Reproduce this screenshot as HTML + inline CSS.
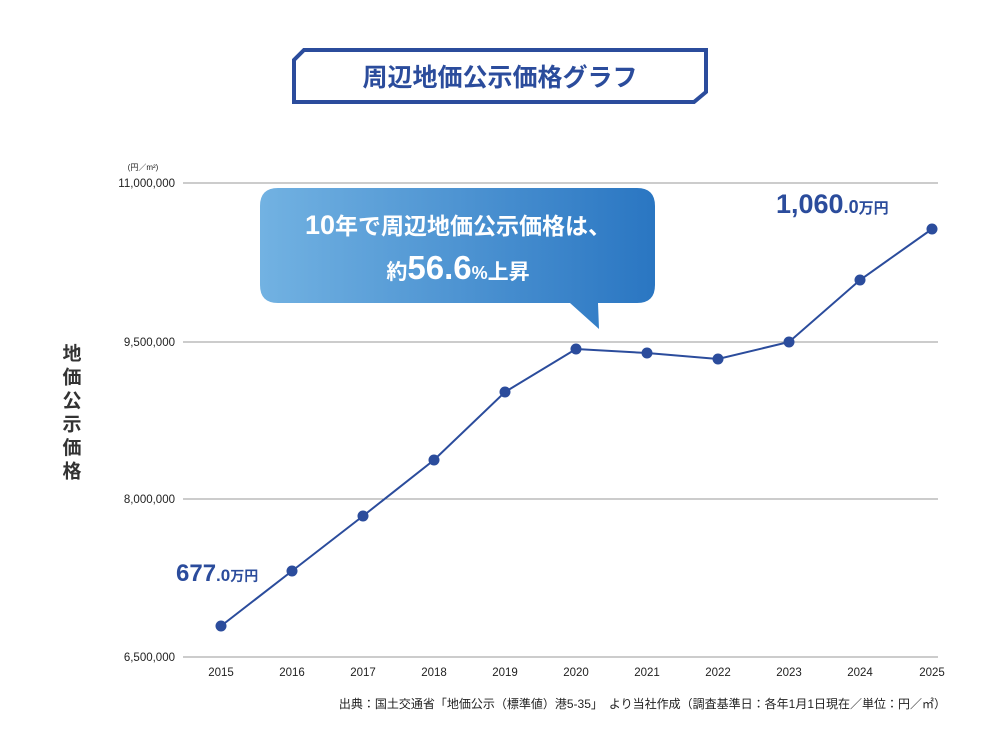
<!DOCTYPE html>
<html><head><meta charset="utf-8"><style>
html,body{margin:0;padding:0;background:#fff;width:1000px;height:750px;overflow:hidden}
svg{display:block}
text{font-family:"Liberation Sans","Noto Sans CJK JP",sans-serif}
</style></head><body>
<svg width="1000" height="750" viewBox="0 0 1000 750">
<defs>
<linearGradient id="g" x1="0" x2="1" y1="0" y2="0">
<stop offset="0" stop-color="#72b2e2"/><stop offset="1" stop-color="#2a76c2"/>
</linearGradient>
</defs>
<polygon points="304,50 706,50 706,92 694,102 294,102 294,60" fill="#fff" stroke="#2b4c9c" stroke-width="4"/>
<text x="500" y="86" text-anchor="middle" font-size="25" font-weight="bold" fill="#2b4c9c">周辺地価公示価格グラフ</text>
<g stroke="#999" stroke-width="1">
<line x1="183" y1="183" x2="938" y2="183"/>
<line x1="183" y1="342" x2="938" y2="342"/>
<line x1="183" y1="499" x2="938" y2="499"/>
<line x1="183" y1="657" x2="938" y2="657"/>
</g>
<g font-size="11.5" fill="#222" text-anchor="end">
<text x="175" y="187">11,000,000</text>
<text x="175" y="346">9,500,000</text>
<text x="175" y="503">8,000,000</text>
<text x="175" y="661">6,500,000</text>
</g>
<text x="143" y="170" text-anchor="middle" font-size="8" fill="#222">(円／m²)</text>
<g font-size="19" font-weight="bold" fill="#333" text-anchor="middle">
<text x="72" y="360">地</text><text x="72" y="383.5">価</text><text x="72" y="407">公</text><text x="72" y="430.5">示</text><text x="72" y="454">価</text><text x="72" y="477.5">格</text>
</g>
<g font-size="11.5" fill="#222" text-anchor="middle">
<text x="221" y="676">2015</text><text x="292" y="676">2016</text><text x="363" y="676">2017</text><text x="434" y="676">2018</text><text x="505" y="676">2019</text><text x="576" y="676">2020</text><text x="647" y="676">2021</text><text x="718" y="676">2022</text><text x="789" y="676">2023</text><text x="860" y="676">2024</text><text x="932" y="676">2025</text>
</g>
<polyline fill="none" stroke="#2b4c9c" stroke-width="2" points="221,626 292,571 363,516 434,460 505,392 576,349 647,353 718,359 789,342 860,280 932,229"/>
<g fill="#2b4c9c">
<circle cx="221" cy="626" r="5.5"/><circle cx="292" cy="571" r="5.5"/><circle cx="363" cy="516" r="5.5"/><circle cx="434" cy="460" r="5.5"/><circle cx="505" cy="392" r="5.5"/><circle cx="576" cy="349" r="5.5"/><circle cx="647" cy="353" r="5.5"/><circle cx="718" cy="359" r="5.5"/><circle cx="789" cy="342" r="5.5"/><circle cx="860" cy="280" r="5.5"/><circle cx="932" cy="229" r="5.5"/>
</g>
<text x="176" y="581" fill="#2b4c9c" font-weight="bold"><tspan font-size="24">677</tspan><tspan font-size="17">.0</tspan><tspan font-size="14">万円</tspan></text>
<text x="776" y="213" fill="#2b4c9c" font-weight="bold"><tspan font-size="27">1,060</tspan><tspan font-size="18">.0</tspan><tspan font-size="15">万円</tspan></text>
<path d="M278,188 H637 Q655,188 655,206 V285 Q655,303 637,303 H598 L599,329 L570,303 H278 Q260,303 260,285 V206 Q260,188 278,188 Z" fill="url(#g)"/>
<text x="458" y="234" text-anchor="middle" fill="#fff" font-weight="bold"><tspan font-size="27">10</tspan><tspan font-size="23">年で周辺地価公示価格は、</tspan></text>
<text x="458" y="279" text-anchor="middle" fill="#fff" font-weight="bold"><tspan font-size="21">約</tspan><tspan font-size="33">56.6</tspan><tspan font-size="18">%</tspan><tspan font-size="21">上昇</tspan></text>
<text x="946" y="708" text-anchor="end" font-size="12" fill="#222">出典：国土交通省「地価公示（標準値）港5-35」　より当社作成（調査基準日：各年1月1日現在／単位：円／㎡）</text>
</svg>
</body></html>
